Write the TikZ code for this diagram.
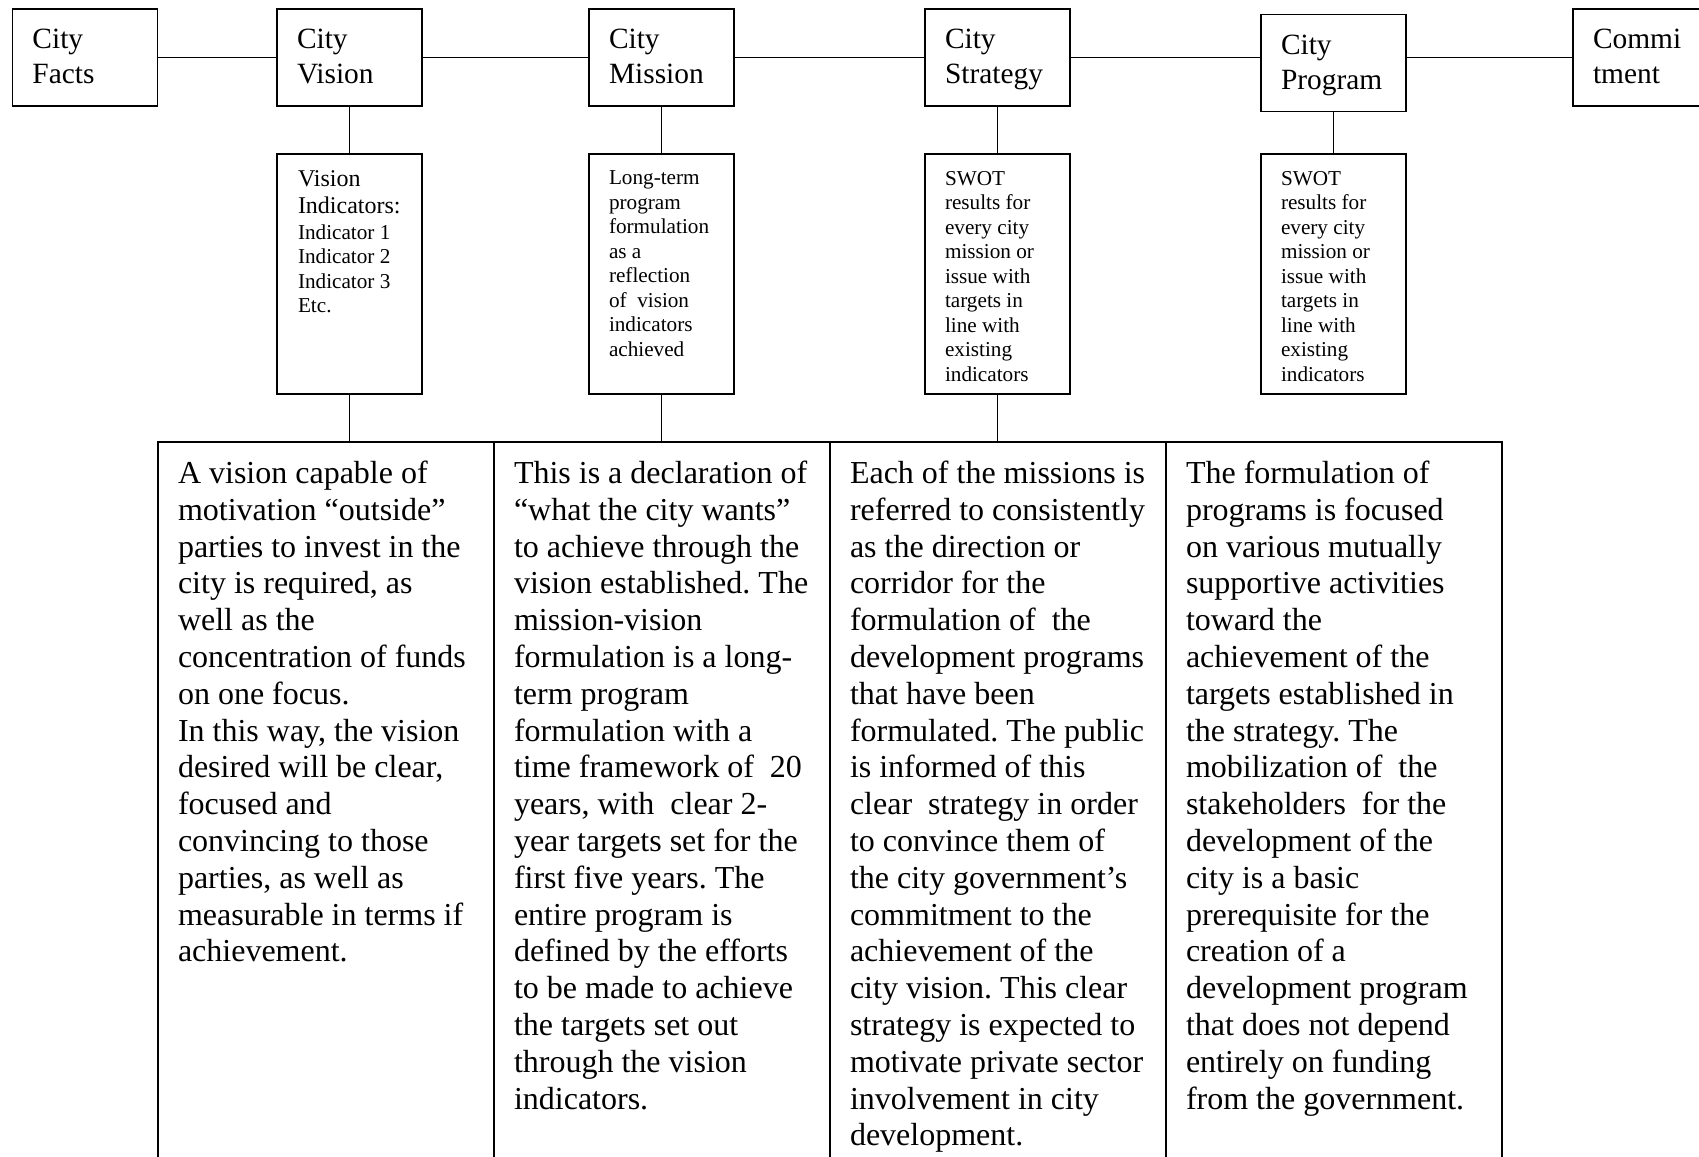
\documentclass[tikz,border=0pt]{standalone}
\usepackage{fontspec}
\setmainfont{Liberation Serif}
\usetikzlibrary{positioning}
\frenchspacing

\begin{document}
\begin{tikzpicture}[x=0.5pt, y=-0.5pt, line width=0.9pt,
    topbox/.style={draw, minimum width=72.5pt, minimum height=48.5pt, inner sep=0pt},
    subbox/.style={draw, minimum width=72.5pt, minimum height=120pt, inner sep=0pt},
    cell/.style={draw, minimum width=168pt, minimum height=380pt, inner sep=0pt},
    toptext/.style={anchor=north west, inner sep=0pt, align=left, font=\fontsize{14.7}{17.3}\selectfont},
    subtext/.style={anchor=north west, inner sep=0pt, align=left, font=\fontsize{10.6}{12.25}\selectfont},
    celltext/.style={anchor=north west, inner sep=0pt, align=left, font=\fontsize{16}{18.4}\selectfont}]
       \useasboundingbox (0,0) rectangle (1699,1157);
       \clip (0,0) rectangle (1699,1157);

       \node[topbox] (facts)    at (85,57.5)     {};
       \node[topbox] (vision)   at (349.5,57.5)  {};
       \node[topbox] (mission)  at (661.5,57.5)  {};
       \node[topbox] (strategy) at (997.5,57.5)  {};
       \node[topbox] (program)  at (1333.5,63)   {};
       \node[topbox] (commit)   at (1645.5,57.5) {};

       \node[toptext] (facts-t)    at ([shift={(20,20.5)}]facts.north west)    {City\\Facts};
       \node[toptext] (vision-t)   at ([shift={(20,20.5)}]vision.north west)   {City\\Vision};
       \node[toptext] (mission-t)  at ([shift={(20,20.5)}]mission.north west)  {City\\Mission};
       \node[toptext] (strategy-t) at ([shift={(20,20.5)}]strategy.north west) {City\\Strategy};
       \node[toptext] (program-t)  at ([shift={(20,20.5)}]program.north west)  {City\\Program};
       \node[toptext] (commit-t)   at ([shift={(20,20.5)}]commit.north west)   {Commi\\tment};

       \node[subbox] (vind)  at (349.5,274)  {};
       \node[subbox] (ltp)   at (661.5,274)  {};
       \node[subbox] (swot1) at (997.5,274)  {};
       \node[subbox] (swot2) at (1333.5,274) {};

       \node[subtext] (vind-t) at ([shift={(21,17)}]vind.north west)
            {{\fontsize{12}{13.8}\selectfont Vision}\\[1.3pt]{\fontsize{12}{13.8}\selectfont Indicators:}\\[0.4pt]Indicator 1\\Indicator 2\\Indicator 3\\Etc.};
       \node[subtext] (ltp-t) at ([shift={(20,17)}]ltp.north west)
            {Long-term\\program\\formulation\\as a\\reflection\\of\ \ vision\\indicators\\achieved};
       \node[subtext] (swot1-t) at ([shift={(20,17)}]swot1.north west)
            {SWOT\\results for\\every city\\mission or\\issue with\\targets in\\line with\\existing\\indicators};
       \node[subtext] (swot2-t) at ([shift={(20,17)}]swot2.north west)
            {SWOT\\results for\\every city\\mission or\\issue with\\targets in\\line with\\existing\\indicators};

       \node[cell] (c1) at (326,822)  {};
       \node[cell] (c2) at (662,822)  {};
       \node[cell] (c3) at (998,822)  {};
       \node[cell] (c4) at (1334,822) {};

       \node[celltext] (c1-t) at ([shift={(20,19)}]c1.north west)
            {A vision capable of\\motivation “outside”\\parties to invest in the\\city is required, as\\well as the\\concentration of funds\\on one focus.\\In this way, the vision\\desired will be clear,\\focused and\\convincing to those\\parties, as well as\\measurable in terms if\\achievement.};
       \node[celltext] (c2-t) at ([shift={(20,19)}]c2.north west)
            {This is a declaration of\\“what the city wants”\\to achieve through the\\vision established. The\\mission-vision\\formulation is a long-\\term program\\formulation with a\\time framework of\ \ 20\\years, with\ \ clear 2-\\year targets set for the\\first five years. The\\entire program is\\defined by the efforts\\to be made to achieve\\the targets set out\\through the vision\\indicators.};
       \node[celltext] (c3-t) at ([shift={(20,19)}]c3.north west)
            {Each of the missions is\\referred to consistently\\as the direction or\\corridor for the\\formulation of\ \ the\\development programs\\that have been\\formulated. The public\\is informed of this\\clear\ \ strategy in order\\to convince them of\\the city government’s\\commitment to the\\achievement of the\\city vision. This clear\\strategy is expected to\\motivate private sector\\involvement in city\\development.};
       \node[celltext] (c4-t) at ([shift={(20,19)}]c4.north west)
            {The formulation of\\programs is focused\\on various mutually\\supportive activities\\toward the\\achievement of the\\targets established in\\the strategy. The\\mobilization of\ \ the\\stakeholders\ \ for the\\development of the\\city is a basic\\prerequisite for the\\creation of a\\development program\\that does not depend\\entirely on funding\\from the government.};

       \draw (facts) -- (vision);
       \draw (vision) -- (mission);
       \draw (mission) -- (strategy);
       \draw (strategy) -- (strategy -| program.west);
       \draw (program.east |- commit) -- (commit);

       \draw (vision) -- (vind);
       \draw (mission) -- (ltp);
       \draw (strategy) -- (swot1);
       \draw (program) -- (swot2);

       \draw (vind) -- (vind |- c1.north);
       \draw (ltp) -- (ltp |- c2.north);
       \draw (swot1) -- (swot1 |- c3.north);
    \end{tikzpicture}
\end{document}
